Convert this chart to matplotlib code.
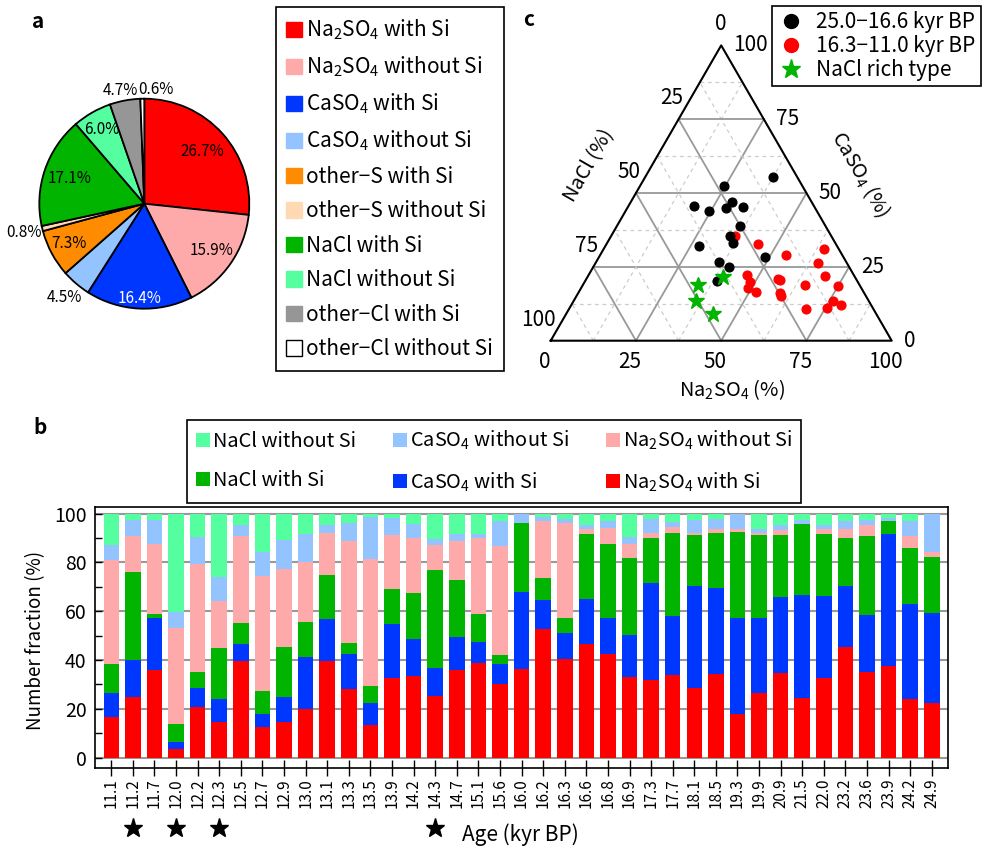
import numpy as np
import matplotlib
matplotlib.use('Agg')
import matplotlib.pyplot as plt
import matplotlib.transforms as mtransforms
from matplotlib.patches import Patch
from matplotlib.lines import Line2D

plt.rcParams['font.family'] = ['Noto Sans CJK JP', 'DejaVu Sans']
plt.rcParams['mathtext.fontset'] = 'custom'
plt.rcParams['mathtext.rm'] = 'Noto Sans CJK JP'
plt.rcParams['mathtext.it'] = 'Noto Sans CJK JP'
plt.rcParams['mathtext.bf'] = 'Noto Sans CJK JP:bold'

# ---- panel a: pie ----
pie_labels = ['Na$_2$SO$_4$ with Si', 'Na$_2$SO$_4$ without Si', 'CaSO$_4$ with Si',
              'CaSO$_4$ without Si', 'other\u2212S with Si', 'other\u2212S without Si',
              'NaCl with Si', 'NaCl without Si', 'other\u2212Cl with Si', 'other\u2212Cl without Si']
pie_values = [26.7, 15.9, 16.4, 4.5, 7.3, 0.8, 17.1, 6.0, 4.7, 0.6]
pie_colors = ['#ff0000', '#ffaaaa', '#0037ff', '#93c4ff', '#ff8c00',
              '#ffd8b4', '#00b400', '#55ffa0', '#969696', '#ffffff']

# ---- panel b: stacked bars ----
ages = ['11.1', '11.2', '11.7', '12.0', '12.2', '12.3', '12.5', '12.7', '12.9', '13.0',
        '13.1', '13.3', '13.5', '13.9', '14.2', '14.3', '14.7', '15.1', '15.6', '16.0',
        '16.2', '16.3', '16.6', '16.8', '16.9', '17.3', '17.7', '18.1', '18.5', '19.3',
        '19.9', '20.9', '21.5', '22.0', '23.2', '23.6', '23.9', '24.2', '24.9']
na2so4_si = [16.6, 25.0, 36.0, 3.5, 20.6, 14.7, 39.6, 12.7, 14.7, 19.9,
             39.6, 28.0, 13.5, 32.6, 33.6, 25.4, 36.0, 38.7, 30.4, 36.2,
             52.8, 40.5, 46.5, 42.6, 32.9, 31.9, 33.7, 28.6, 34.5, 18.0,
             26.6, 34.8, 24.6, 32.6, 45.3, 35.2, 37.4, 24.0, 22.4]
caso4_si = [9.9, 15.0, 21.3, 2.8, 7.8, 9.2, 6.9, 5.2, 10.1, 21.3,
            17.4, 14.6, 9.0, 22.2, 15.0, 11.3, 13.5, 8.8, 8.1, 31.6,
            11.7, 10.4, 18.4, 14.8, 17.4, 39.7, 24.3, 41.8, 34.9, 39.3,
            30.6, 31.0, 42.0, 33.7, 25.0, 23.1, 54.3, 39.0, 36.8]
nacl_si = [12.0, 36.0, 1.7, 7.5, 6.6, 21.1, 8.5, 9.4, 20.5, 14.6,
           17.8, 4.5, 7.0, 14.4, 18.7, 40.0, 23.1, 11.5, 3.5, 28.2,
           9.2, 6.4, 26.8, 30.3, 31.6, 18.6, 34.1, 20.7, 22.8, 35.2,
           34.1, 25.5, 29.0, 25.2, 19.9, 32.7, 5.4, 22.9, 22.9]
na2so4_nosi = [42.5, 14.9, 28.7, 39.4, 44.4, 19.1, 35.9, 47.2, 31.9, 24.3,
               17.2, 41.6, 51.8, 21.9, 22.7, 10.6, 16.1, 30.8, 44.6, 0.0,
               23.2, 38.7, 1.9, 6.2, 5.7, 1.8, 2.3, 1.0, 1.4, 1.1,
               0.8, 2.0, 0.0, 2.2, 3.3, 4.5, 0.0, 5.0, 2.2]
caso4_nosi = [6.2, 6.5, 9.8, 6.4, 11.2, 9.8, 4.3, 9.8, 12.0, 11.6,
              3.2, 7.3, 17.2, 6.9, 5.9, 2.2, 3.0, 2.0, 10.4, 4.0,
              1.7, 1.7, 1.6, 3.1, 2.7, 5.7, 2.3, 5.3, 4.1, 6.4,
              1.6, 2.2, 1.9, 1.7, 3.5, 2.0, 1.1, 6.1, 15.7]
nacl_nosi = [12.8, 2.6, 2.5, 40.4, 9.4, 26.1, 4.8, 15.7, 10.8, 8.3,
             4.8, 4.0, 1.5, 2.0, 4.1, 10.5, 8.3, 8.2, 3.0, 0.0,
             1.4, 2.3, 4.8, 3.0, 9.7, 2.3, 3.3, 2.6, 2.3, 0.0,
             6.3, 4.5, 2.5, 4.6, 3.0, 2.5, 1.8, 3.0, 0.0]
starred = ['11.2', '12.0', '12.3', '14.3']

# ---- panel c: ternary groups (one per bar) ----
tern_group = ['young', 'star', 'young', 'star', 'young', 'star', 'young', 'young',
              'young', 'young', 'young', 'young', 'young', 'young', 'young', 'star',
              'young', 'young', 'young', 'young', 'young', 'young', 'young', 'young',
              'old', 'old', 'old', 'old', 'old', 'old', 'old', 'old', 'old', 'old',
              'old', 'old', 'old', 'old', 'old']

W, H = 988, 849
fig = plt.figure(figsize=(W / 100, H / 100), dpi=100)

# pie
cx, cy, rr = 144.3, 203.7, 105.0
lim = 1.02
axp = fig.add_axes([(cx - rr * lim) / W, 1 - (cy + rr * lim) / H, 2 * rr * lim / W, 2 * rr * lim / H])
wedges, _ = axp.pie(pie_values, colors=pie_colors, startangle=90, counterclock=False,
                    wedgeprops=dict(edgecolor='black', linewidth=1.3))
axp.set_xlim(-lim, lim)
axp.set_ylim(-lim, lim)
lab_r = [0.74, 0.78, 0.90, 1.17, 0.81, 1.175, 0.75, 0.82, 1.10, 1.09]
lab_da = [0, 0, 0, 0, 0, 0, 0, 0, 1.5, -7]
lab_col = ['black', 'black', 'white', 'black', 'black', 'black', 'black', 'black', 'black', 'black']
for w, v, r, da, c in zip(wedges, pie_values, lab_r, lab_da, lab_col):
    ang = np.deg2rad((w.theta1 + w.theta2) / 2 + da)
    axp.text(r * np.cos(ang), r * np.sin(ang), '%.1f%%' % v, ha='center', va='center',
             fontsize=11, color=c, clip_on=False)

pie_handles = [Patch(facecolor=c, edgecolor='black' if c == '#ffffff' else c, linewidth=1)
               for c in pie_colors]
leg_a = fig.legend(pie_handles, pie_labels, loc='upper left', bbox_to_anchor=(276 / W, 1 - 7 / H),
                   fontsize=15, frameon=True, fancybox=False, edgecolor='black', framealpha=1,
                   handlelength=0.75, handleheight=0.75, handletextpad=0.2, labelspacing=0.6,
                   borderpad=0.5, borderaxespad=0)
leg_a.get_frame().set_linewidth(1.2)

# stacked bars
axb = fig.add_axes([95 / W, 1 - 768 / H, (948 - 95) / W, (768 - 507) / H])
x = np.arange(len(ages))
series = [na2so4_si, caso4_si, nacl_si, na2so4_nosi, caso4_nosi, nacl_nosi]
bar_cols = ['#ff0000', '#0037ff', '#00b400', '#ffaaaa', '#93c4ff', '#55ffa0']
bar_names = ['Na$_2$SO$_4$ with Si', 'CaSO$_4$ with Si', 'NaCl with Si',
             'Na$_2$SO$_4$ without Si', 'CaSO$_4$ without Si', 'NaCl without Si']
bottom = np.zeros(len(ages))
for vals, col in zip(series, bar_cols):
    vals = np.array(vals)
    axb.bar(x, vals, 0.72, bottom=bottom, color=col, zorder=2)
    bottom += vals
axb.set_xlim(-0.755, 38.75)
axb.set_ylim(-4.2, 102.7)
axb.set_yticks(np.arange(0, 101, 20))
axb.set_yticks(np.arange(10, 100, 20), minor=True)
axb.yaxis.grid(True, color='#999999', linewidth=1.5, zorder=0)
axb.set_axisbelow(True)
axb.tick_params(axis='y', which='both', direction='in', length=5, width=1, labelsize=14, pad=6)
axb.set_xticks(x)
axb.set_xticklabels(ages, rotation=90)
axb.tick_params(axis='x', direction='inout', length=11, width=1, labelsize=11, pad=2)
for s in axb.spines.values():
    s.set_linewidth(1.2)
trans = mtransforms.blended_transform_factory(axb.transData, axb.transAxes)
sx = [ages.index(a) for a in starred]
axb.plot(sx, [-0.23] * len(sx), ls='none', marker='*', ms=14, color='black',
         transform=trans, clip_on=False)
fig.text(36 / W, 1 - 640 / H, 'Number fraction (%)', rotation=90, ha='center', va='center', fontsize=13.5)
fig.text(520 / W, 1 - 835 / H, 'Age (kyr BP)', ha='center', va='center', fontsize=15)

order = [5, 2, 4, 1, 3, 0]
leg_b = fig.legend([Patch(facecolor=bar_cols[i]) for i in order], [bar_names[i] for i in order],
                   ncol=3, loc='upper left', bbox_to_anchor=(187 / W, 1 - 420 / H),
                   fontsize=14.4, frameon=True, fancybox=False, edgecolor='black', framealpha=1,
                   handlelength=0.7, handleheight=0.7, handletextpad=0.15, labelspacing=0.9,
                   columnspacing=1.85, borderpad=0.45, borderaxespad=0)
leg_b.get_frame().set_linewidth(1.2)

# ternary
u = 341.0
x0, y0 = 550.7, 340.7
axt = fig.add_axes([520 / W, 1 - 400 / H, 460 / W, 390 / H])
axt.set_xlim((520 - x0) / u, (980 - x0) / u)
axt.set_ylim((y0 - 400) / u, (y0 - 10) / u)
axt.axis('off')
h = np.sqrt(3) / 2
for k in np.arange(0.125, 1.0, 0.125):
    solid = abs(k * 4 - round(k * 4)) < 1e-9
    kw = dict(color='#999999', lw=1.3, ls='-') if solid else dict(color='#cccccc', lw=0.9, ls=(0, (3, 3)))
    axt.plot([k / 2, 1 - k / 2], [k * h, k * h], zorder=1, **kw)
    axt.plot([k, k + (1 - k) / 2], [0, (1 - k) * h], zorder=1, **kw)
    axt.plot([1 - k, (1 - k) / 2], [0, (1 - k) * h], zorder=1, **kw)
axt.plot([0, 1, 0.5, 0], [0, 0, h, 0], color='black', lw=1.5, zorder=2)

px = 1 / u
for t in [0, 25, 50, 75, 100]:
    f = t / 100
    axt.text(f - 6 * px, -21 * px, str(t), ha='center', va='center', fontsize=15)
    axt.text(1 - f / 2 + 12 * px, f * h, str(t), ha='left', va='center', fontsize=15)
    axt.text((1 - f) / 2 + 5 * px, (1 - f) * h + 21 * px, str(t), ha='right', va='center', fontsize=15)
axt.text((732 - x0) / u, (y0 - 390) / u, 'Na$_2$SO$_4$ (%)', ha='center', va='center', fontsize=14.4)
axt.text((589 - x0) / u, (y0 - 166) / u, 'NaCl (%)', ha='center', va='center', fontsize=14.4, rotation=60)
axt.text((861 - x0) / u, (y0 - 174) / u, 'CaSO$_4$ (%)', ha='center', va='center', fontsize=14.4, rotation=-60)

na2so4 = (np.array(na2so4_si) + np.array(na2so4_nosi)) / 100
caso4 = (np.array(caso4_si) + np.array(caso4_nosi)) / 100
tx = na2so4 + caso4 / 2
ty = caso4 * h
g = np.array(tern_group)
axt.plot(tx[g == 'young'], ty[g == 'young'], 'o', color='#ff0000', ms=6.3, zorder=3)
axt.plot(tx[g == 'old'], ty[g == 'old'], 'o', color='black', ms=6.3, zorder=4)
axt.plot(tx[g == 'star'], ty[g == 'star'], '*', color='#00b400', ms=12, zorder=5)

tern_handles = [Line2D([], [], ls='none', marker='o', color='black', ms=10),
                Line2D([], [], ls='none', marker='o', color='#ff0000', ms=10),
                Line2D([], [], ls='none', marker='*', color='#00b400', ms=14)]
leg_c = fig.legend(tern_handles, ['25.0\u221216.6 kyr BP', '16.3\u221211.0 kyr BP', 'NaCl rich type'],
                   loc='upper right', bbox_to_anchor=(981 / W, 1 - 6 / H), fontsize=15,
                   frameon=True, fancybox=False, edgecolor='black', framealpha=1,
                   handlelength=1.35, handletextpad=0.53, labelspacing=0.09, borderpad=0.25,
                   borderaxespad=0)
leg_c.get_frame().set_linewidth(1.2)

for lab, (lx, ly) in zip('abc', [(38, 21), (40, 428), (529, 20)]):
    fig.text(lx / W, 1 - ly / H, lab, fontsize=15, fontweight='bold', ha='center', va='center')

fig.savefig('out.png', dpi=100)
